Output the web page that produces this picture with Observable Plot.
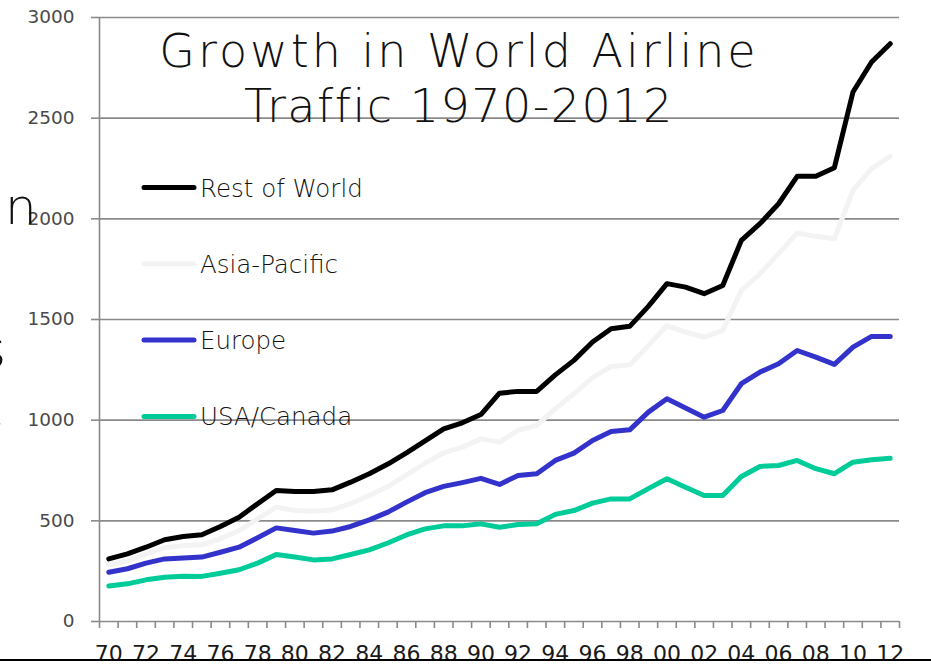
<!DOCTYPE html>
<html>
<head>
<meta charset="utf-8">
<script src="https://cdn.jsdelivr.net/npm/d3@7"></script>
<script src="https://cdn.jsdelivr.net/npm/@observablehq/plot@0.6"></script>
<style>
  html, body { margin: 0; padding: 0; background: #fff; }
  #wrap { position: relative; width: 931px; height: 664px; overflow: hidden; }
  #rule { position: absolute; left: 0; top: 659px; width: 931px; height: 2px; background: #000; }
</style>
</head>
<body>
<div id="wrap"><div id="chart"></div><div id="rule"></div></div>
<script>
// ---- data ----
const years = [1970,1971,1972,1973,1974,1975,1976,1977,1978,1979,1980,1981,1982,1983,1984,1985,1986,1987,1988,1989,1990,1991,1992,1993,1994,1995,1996,1997,1998,1999,2000,2001,2002,2003,2004,2005,2006,2007,2008,2009,2010,2011,2012];
const restOfWorld = [311,336,369,406,422,431,472,518,585,651,646,646,654,692,734,782,838,897,957,987,1028,1134,1143,1143,1225,1297,1388,1454,1466,1565,1678,1661,1628,1669,1893,1976,2075,2211,2211,2254,2630,2779,2870];
const asiaPacific = [283,300,336,366,378,381,411,452,510,568,551,548,555,585,626,670,728,786,838,866,907,891,949,974,1057,1131,1211,1267,1275,1370,1470,1437,1412,1446,1644,1727,1827,1929,1913,1901,2141,2249,2310];
const europe = [245,262,290,311,316,320,344,369,416,465,452,439,449,472,505,543,593,640,671,690,711,681,725,734,800,836,899,944,952,1040,1106,1061,1015,1048,1181,1239,1280,1346,1313,1277,1363,1416,1416];
const usaCanada = [176,187,207,220,225,224,240,257,290,333,320,306,311,333,356,390,430,460,475,475,485,468,482,485,532,551,588,609,609,660,709,667,626,626,720,770,775,800,759,734,791,803,811];
const seriesNames = ["Rest of World", "Asia-Pacific", "Europe", "USA/Canada"];
const seriesColors = ["#000000", "#f3f3f3", "#3333cc", "#00cc99"];
const yTicks = [0, 500, 1000, 1500, 2000, 2500, 3000];
const xLabelYears = [1970,1972,1974,1976,1978,1980,1982,1984,1986,1988,1990,1992,1994,1996,1998,2000,2002,2004,2006,2008,2010,2012];
const titleLines = ["Growth in World Airline", "Traffic 1970-2012"];
const leftFragments = ["n", "s", ","];

const seriesValues = [restOfWorld, asiaPacific, europe, usaCanada];
const rows = [];
seriesNames.forEach((name, s) => years.forEach((yr, i) => rows.push({series: name, year: yr, value: seriesValues[s][i]})));
const tickBounds = [...years.map(y => y - 0.5), years[years.length - 1] + 0.5];
const drawOrder = ["Asia-Pacific", "USA/Canada", "Europe", "Rest of World"];

const FONT = "'DejaVu Sans', sans-serif";
const plot = Plot.plot({
  width: 931, height: 664,
  marginLeft: 99, marginRight: 32, marginTop: 17, marginBottom: 43,
  style: {fontFamily: FONT, fontWeight: 400, background: "transparent", overflow: "visible"},
  x: {domain: [1969.5, 2012.5], label: null},
  y: {domain: [0, 3000], label: null},
  color: {domain: seriesNames, range: seriesColors},
  marks: [
    Plot.ruleY(yTicks, {stroke: "#8a8a8a", strokeWidth: 1.6}),
    Plot.ruleX([1969.5], {y1: 0, y2: 3000, stroke: "#8a8a8a", strokeWidth: 1.6}),
    Plot.axisY({ticks: yTicks, tickSize: 8, tickPadding: 17, fontSize: 18.5, stroke: "#8a8a8a", strokeWidth: 1.6, fill: "#4a4a4a", tickFormat: d => String(d), label: null}),
    Plot.axisX({ticks: tickBounds, tickSize: 7, stroke: "#8a8a8a", strokeWidth: 1.6, tickFormat: () => "", label: null}),
    Plot.axisX({ticks: xLabelYears, tickSize: 0, tickPadding: 24, fontSize: 22, fill: "#1a1a1a", tickFormat: d => String(d).slice(2), label: null}),
    ...drawOrder.map(name => Plot.line(rows.filter(r => r.series === name), {
      x: "year", y: "value", stroke: "series", strokeWidth: 5,
      strokeLinejoin: "round", strokeLinecap: "round"
    }))
  ]
});
document.getElementById("chart").appendChild(plot);

const svg = d3.select(plot);
// title
const title = svg.append("g").attr("font-family", FONT).attr("font-weight", 200).attr("fill", "#111");
const titleSpacing = [3.0, 1.5];
titleLines.forEach((t, i) => {
  title.append("text").attr("x", 459).attr("y", 67 + i * 55)
    .attr("text-anchor", "middle").attr("font-size", 46).attr("letter-spacing", titleSpacing[i]).text(t);
});
// legend
const lg = svg.append("g").attr("font-family", FONT).attr("font-weight", 200);
seriesNames.forEach((name, i) => {
  const y = 187.5 + i * 76.3;
  lg.append("line").attr("x1", 144).attr("x2", 194).attr("y1", y).attr("y2", y)
    .attr("stroke", seriesColors[i]).attr("stroke-width", 5).attr("stroke-linecap", "round");
  lg.append("text").attr("x", 200).attr("y", y + 9).attr("text-anchor", "start")
    .attr("font-size", 24.5).attr("fill", "#111").text(name);
});
// cut-off fragments at the left edge
const fragY = [224, 367, 426];
const fragX = [5, -20, -9];
leftFragments.forEach((f, i) => {
  svg.append("text").attr("x", fragX[i]).attr("y", fragY[i]).attr("text-anchor", "start")
    .attr("font-family", FONT).attr("font-weight", 200).attr("font-size", 50).attr("fill", "#111").text(f);
});
</script>
</body>
</html>
